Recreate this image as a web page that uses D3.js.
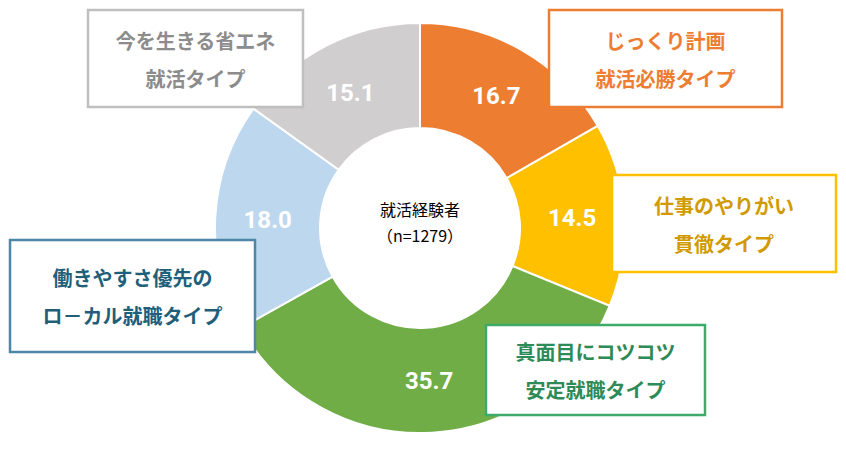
<!DOCTYPE html>
<html><head><meta charset="utf-8">
<script src="https://cdn.jsdelivr.net/npm/d3@7"></script>
<style>body{margin:0;background:#fff;font-family:"Noto Sans CJK JP","Noto Sans",sans-serif;}</style>
</head><body>
<script>
const categories = ["じっくり計画就活必勝タイプ","仕事のやりがい貫徹タイプ","真面目にコツコツ安定就職タイプ","働きやすさ優先のローカル就職タイプ","今を生きる省エネ就活タイプ"];
const values = [16.7, 14.5, 35.7, 18.0, 15.1];
const colors = ["#ED7D31","#FFC000","#70AD47","#BDD7EE","#D0CECE"];
const labelLines = [["じっくり計画","就活必勝タイプ"],["仕事のやりがい","貫徹タイプ"],["真面目にコツコツ","安定就職タイプ"],["働きやすさ優先の","ロ－カル就職タイプ"],["今を生きる省エネ","就活タイプ"]];
const boxBorder = ["#ED7D31","#FFC000","#3DAA6A","#4E86A8","#BFBFBF"];
const boxText = ["#ED7D31","#D09A00","#2E8B57","#1F5F7A","#8C8C8C"];
const boxes = [[549,10,233,97],[612,175,224,97],[486,325,219,90],[10,240,245,112],[88,10,215,97]];

const W = 846, H = 460, cx = 420, cy = 228, rOut = 205, rIn = 100;
const svg = d3.select("body").append("svg").attr("width", W).attr("height", H);
const g = svg.append("g").attr("transform", `translate(${cx},${cy})`);
const pie = d3.pie().sort(null).value(d => d);
const arc = d3.arc().innerRadius(rIn).outerRadius(rOut);
const arcs = pie(values);
g.selectAll("path").data(arcs).join("path")
  .attr("d", arc).attr("fill", (d, i) => colors[i])
  .attr("stroke", "#fff").attr("stroke-width", 2);

const lblArc = d3.arc().innerRadius((rIn + rOut) / 2).outerRadius((rIn + rOut) / 2);
g.selectAll("text.v").data(arcs).join("text").attr("class", "v")
  .attr("transform", d => `translate(${lblArc.centroid(d)})`)
  .attr("text-anchor", "middle").attr("dy", "0.35em")
  .attr("fill", "#fff").attr("font-size", 24).attr("font-weight", "bold")
  .attr("font-family", "Roboto, 'Noto Sans', sans-serif")
  .text(d => d.data.toFixed(1));

g.append("text").attr("text-anchor", "middle").attr("y", -12).attr("font-size", 16).text("就活経験者");
g.append("text").attr("text-anchor", "middle").attr("y", 14).attr("font-size", 16).text("（n=1279）");

boxes.forEach((b, i) => {
  svg.append("rect").attr("x", b[0]).attr("y", b[1]).attr("width", b[2]).attr("height", b[3])
    .attr("fill", "#fff").attr("stroke", boxBorder[i]).attr("stroke-width", 2.5);
  labelLines[i].forEach((t, j) => {
    svg.append("text").attr("x", b[0] + b[2] / 2).attr("y", b[1] + b[3] / 2 + (j === 0 ? -10 : 28))
      .attr("text-anchor", "middle").attr("fill", boxText[i])
      .attr("font-size", 20).attr("font-weight", "bold").text(t);
  });
});
</script>
</body></html>
